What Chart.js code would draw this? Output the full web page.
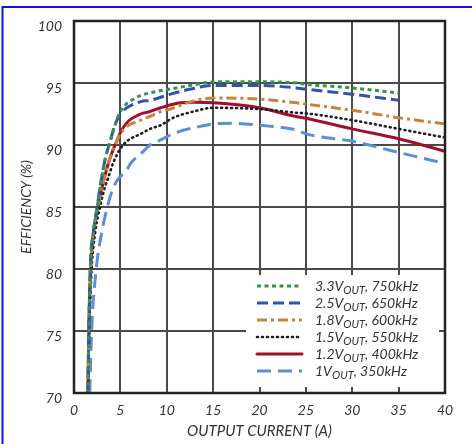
<!DOCTYPE html>
<html><head><meta charset="utf-8">
<script src="https://cdn.jsdelivr.net/npm/chart.js@4"></script>
<style>html,body{margin:0;padding:0;background:#fff;}canvas{display:block}</style>
</head><body>
<canvas id="c" width="472" height="444"></canvas>
<script>
// ---- data (output current A, efficiency %) ----
const legendVolts = ['3.3V', '2.5V', '1.8V', '1.5V', '1.2V', '1V'];
const legendFreqs = ['750kHz', '650kHz', '600kHz', '550kHz', '400kHz', '350kHz'];
const xTitle = 'OUTPUT CURRENT (A)';
const yTitle = 'EFFICIENCY (%)';

const eff33 = [[1.5,70],[1.6,75],[1.75,80],[2.1,83],[2.5,85],[2.9,87],[3.4,89],[3.8,90],[4.3,91.3],[4.8,92.4],[5.5,93.2],[6.2,93.6],[7.2,94.0],[8.2,94.2],[9.5,94.4],[11,94.6],[12.5,94.8],[14,95.0],[15,95.1],[20,95.1],[24,95.0],[25,94.9],[30,94.6],[35,94.2]];
const eff25 = [[1.5,70],[1.6,75],[1.75,80],[2.1,83],[2.5,85],[2.9,87],[3.4,89],[3.9,90.3],[4.4,91.6],[5.0,92.5],[5.7,93.0],[7.2,93.5],[8.2,93.6],[10.4,94.1],[12.5,94.5],[15,94.8],[20,94.8],[24,94.6],[25,94.5],[30,94.1],[35,93.6]];
const eff18 = [[1.5,70],[1.6,75],[1.8,80],[2.1,83],[2.6,85],[3.0,86.5],[3.5,88.0],[4.0,89.2],[4.6,90.3],[5.0,90.9],[5.7,91.5],[7.2,92.0],[8.2,92.3],[9.35,92.7],[10.4,92.9],[12.2,93.4],[15,93.8],[20,93.7],[24,93.4],[25,93.3],[30,92.8],[35,92.2],[40,91.7]];
const eff15 = [[1.5,70],[1.65,75],[1.9,80],[2.3,83],[2.8,85],[3.3,86.5],[3.7,87.4],[4.25,88.6],[5.0,89.7],[5.7,90.3],[7.2,90.9],[8.2,91.3],[9.35,91.6],[10.7,92.2],[12.9,92.7],[15,93.0],[20,92.9],[24,92.6],[25,92.55],[30,92.0],[35,91.3],[40,90.6]];
const eff12 = [[1.5,70],[1.6,75],[1.8,80],[2.1,83],[2.6,85],[3.0,86.5],[3.5,88.0],[4.0,89.2],[4.6,90.3],[5.0,91.0],[5.7,91.8],[7.2,92.5],[8.2,92.7],[9.35,93.0],[11.5,93.4],[13,93.45],[15,93.4],[20,93.0],[23.3,92.4],[25,92.15],[30,91.3],[35,90.5],[40,89.5]];
const eff10 = [[1.7,70],[1.9,75],[2.4,80],[3.0,83],[3.6,85],[4.1,86.3],[4.7,87.2],[5.7,88.0],[6.1,88.5],[7.5,89.5],[8.2,90.0],[9.3,90.4],[11,91.0],[13.6,91.5],[15,91.7],[17,91.75],[20,91.6],[24,91.2],[25,90.9],[30,90.3],[35,89.4],[40,88.5]];

const seriesData = [eff33, eff25, eff18, eff15, eff12, eff10];
const seriesColors = ['#34954a', '#3252ad', '#c8823a', '#1e1e1e', '#a0102c', '#5b8fd6'];
const seriesDash = [[4,3.5], [11,5], [10,4,3,4], [1,4], [], [14,7]];
const seriesWidth = [3, 3, 3, 2.6, 3, 3];
const seriesCap = ['butt','butt','butt','round','round','butt'];

const FONT = 'Lato, "Open Sans", sans-serif';

const datasets = seriesData.map((d, i) => ({
  label: legendVolts[i] + 'OUT, ' + legendFreqs[i],
  data: d.map(p => ({x: p[0], y: p[1]})),
  borderColor: seriesColors[i],
  borderWidth: seriesWidth[i],
  borderDash: seriesDash[i],
  borderCapStyle: seriesCap[i],
  pointRadius: 0,
  fill: false,
  cubicInterpolationMode: 'monotone'
}));

const decor = {
  id: 'decor',
  beforeDatasetsDraw(chart) {
    const {ctx, chartArea: a, scales: {y}} = chart;
    ctx.save();
    ctx.fillStyle = '#fff';
    const top = y.getPixelForValue(80) + 6;
    ctx.fillRect(a.left + 172, top, a.right - 6 - (a.left + 172), a.bottom - 6 - top);
    ctx.restore();
  },
  afterDatasetsDraw(chart) {
    const {ctx, chartArea: a, scales: {y}} = chart;
    ctx.save();
    ctx.strokeStyle = '#222';
    ctx.lineWidth = 2.5;
    ctx.strokeRect(a.left, a.top, a.right - a.left, a.bottom - a.top);
    const lx0 = a.left + 183, lx1 = a.left + 228, tx = a.left + 241;
    const y0 = y.getPixelForValue(80) + 17, dy = 17;
    chart.data.datasets.forEach((ds, i) => {
      const yy = y0 + i * dy;
      ctx.beginPath();
      ctx.setLineDash(ds.borderDash);
      ctx.lineCap = ds.borderCapStyle;
      ctx.lineWidth = ds.borderWidth;
      ctx.strokeStyle = ds.borderColor;
      ctx.moveTo(lx0, yy); ctx.lineTo(lx1, yy); ctx.stroke();
      ctx.setLineDash([]);
      ctx.fillStyle = '#333';
      ctx.textBaseline = 'alphabetic';
      ctx.textAlign = 'left';
      let x = tx;
      ctx.font = 'italic 14px ' + FONT;
      ctx.fillText(legendVolts[i], x, yy + 5);
      x += ctx.measureText(legendVolts[i]).width;
      ctx.font = 'italic 11px ' + FONT;
      ctx.fillText('OUT', x, yy + 8);
      x += ctx.measureText('OUT').width;
      ctx.font = 'italic 14px ' + FONT;
      ctx.fillText(', ' + legendFreqs[i], x, yy + 5);
    });
    ctx.restore();
  },
  afterDraw(chart) {
    const {ctx} = chart;
    ctx.save();
    ctx.strokeStyle = '#1010ee';
    ctx.lineWidth = 2;
    ctx.beginPath();
    ctx.moveTo(2.5, 444); ctx.lineTo(2.5, 7); ctx.lineTo(472, 7);
    ctx.stroke();
    ctx.restore();
  }
};

new Chart(document.getElementById('c'), {
  type: 'line',
  data: {datasets},
  plugins: [decor],
  options: {
    responsive: false,
    animation: false,
    layout: {padding: {left: 0, top: 21, right: 27, bottom: 0}},
    plugins: {legend: {display: false}, tooltip: {enabled: false}},
    scales: {
      x: {
        type: 'linear', min: 0, max: 40,
        afterFit(s) { s.height = 51; },
        ticks: {stepSize: 5, padding: 9, color: '#333', font: {family: FONT, style: 'italic', size: 14}},
        grid: {color: '#4a4a4a', lineWidth: 2, drawTicks: false},
        border: {display: false},
        title: {display: true, text: xTitle, color: '#333', padding: {top: 0, bottom: 4}, font: {family: FONT, style: 'italic', size: 15}}
      },
      y: {
        type: 'linear', min: 70, max: 100,
        afterFit(s) { s.width = 74; },
        ticks: {stepSize: 5, padding: 12, labelOffset: 5, color: '#333', font: {family: FONT, style: 'italic', size: 14}},
        grid: {color: '#4a4a4a', lineWidth: 2, drawTicks: false},
        border: {display: false},
        title: {display: true, text: yTitle, color: '#333', padding: {top: 18, bottom: 0}, font: {family: FONT, style: 'italic', size: 14}}
      }
    }
  }
});
</script>
</body></html>
